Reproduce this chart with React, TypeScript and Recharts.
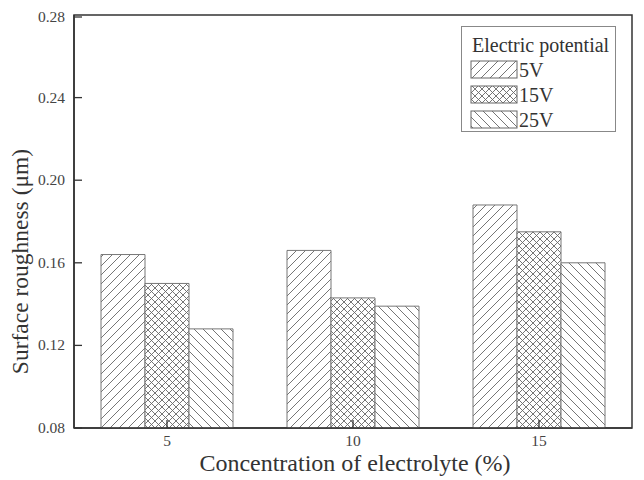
import { BarChart, Bar, XAxis, YAxis, ReferenceArea } from "recharts";

// concentration of electrolyte (%)
const concentrations = [5, 10, 15];
// surface roughness (um) per electric potential
const v5 = [0.164, 0.166, 0.188];
const v15 = [0.15, 0.143, 0.175];
const v25 = [0.128, 0.139, 0.16];
const seriesNames = ["5V", "15V", "25V"];
const seriesKeys = ["v5", "v15", "v25"];
const patternIds = ["hatchFwd", "hatchCross", "hatchBack"];
const yTicks = [0.08, 0.12, 0.16, 0.2, 0.24, 0.28];
const xTicks = [5, 10, 15];
const xDomain = [2.5, 17.5];
const yDomain = [0.08, 0.28];

const data = concentrations.map((c, i) => ({ c, v5: v5[i], v15: v15[i], v25: v25[i] }));

const FONT = "'Liberation Serif', 'Times New Roman', serif";
const AXIS = "#333";
const HATCH = "#666";

const XTick = ({ x, y, payload }: any) => (
  <g>
    <line x1={x} x2={x} y1={y} y2={y - 8} stroke={AXIS} strokeWidth={1.3} />
    <text x={x} y={y + 18} textAnchor="middle" fontSize={15.5} fontFamily={FONT} fill="#444">
      {payload.value}
    </text>
  </g>
);

const YTick = ({ x, y, payload }: any) => (
  <g>
    <line x1={x} x2={x + 8} y1={y} y2={y} stroke={AXIS} strokeWidth={1.3} />
    <text x={x - 9} y={y + 5} textAnchor="end" fontSize={15.5} fontFamily={FONT} fill="#444">
      {Number(payload.value).toFixed(2)}
    </text>
  </g>
);

const LegendBox = () => (
  <svg width={156} height={107} style={{ display: "block" }}>
    <rect x={0.5} y={0.5} width={154} height={105} fill="#fff" stroke="#888" strokeWidth={1} />
    <text x={11} y={26} fontSize={20} fontFamily={FONT} fill="#333">
      Electric potential
    </text>
    {seriesNames.map((name, i) => (
      <g key={name}>
        <rect x={10} y={35 + i * 25} width={46} height={17} fill={`url(#${patternIds[i]})`} stroke={HATCH} />
        <text x={58} y={51 + i * 25} fontSize={20} fontFamily={FONT} fill="#333">
          {name}
        </text>
      </g>
    ))}
  </svg>
);

export default function App() {
  return (
    <div style={{ position: "relative", width: 636, height: 472, background: "#fff" }}>
      <style>{`.recharts-surface { overflow: visible; }`}</style>
      <BarChart
        width={636}
        height={472}
        data={data}
        margin={{ top: 7, right: 12, bottom: 0, left: 0 }}
        barGap={0}
        barSize={44}
      >
        <defs>
          <pattern id="hatchFwd" patternUnits="userSpaceOnUse" width={9} height={9}>
            <rect width={9} height={9} fill="#fff" />
            <path d="M-1,1 l2,-2 M0,9 l9,-9 M8,10 l2,-2" stroke={HATCH} strokeWidth={0.9} />
          </pattern>
          <pattern id="hatchBack" patternUnits="userSpaceOnUse" width={9} height={9}>
            <rect width={9} height={9} fill="#fff" />
            <path d="M-1,8 l2,2 M0,0 l9,9 M8,-1 l2,2" stroke={HATCH} strokeWidth={0.9} />
          </pattern>
          <pattern id="hatchCross" patternUnits="userSpaceOnUse" width={7} height={7}>
            <rect width={7} height={7} fill="#fff" />
            <path d="M-1,1 l2,-2 M0,7 l7,-7 M6,8 l2,-2 M-1,6 l2,2 M0,0 l7,7 M6,-1 l2,2" stroke={HATCH} strokeWidth={0.9} />
          </pattern>
        </defs>
        <XAxis
          dataKey="c"
          type="number"
          domain={xDomain}
          ticks={xTicks}
          allowDataOverflow
          height={52}
          tickSize={0}
          tickMargin={0}
          tickLine={false}
          tick={<XTick />}
          axisLine={{ stroke: AXIS, strokeWidth: 1.5 }}
          label={({ viewBox }: any) => (
            <text
              x={viewBox.x + viewBox.width / 2 + 2}
              y={viewBox.y + 43}
              textAnchor="middle"
              fontSize={24}
              fontFamily={FONT}
              fill="#333"
            >
              Concentration of electrolyte (%)
            </text>
          )}
        />
        <YAxis
          type="number"
          domain={yDomain}
          ticks={yTicks}
          allowDataOverflow
          width={66}
          tickSize={0}
          tickMargin={0}
          tickLine={false}
          tick={<YTick />}
          axisLine={{ stroke: AXIS, strokeWidth: 1.5 }}
          label={({ viewBox }: any) => {
            const cx = viewBox.x + 12;
            const cy = viewBox.y + viewBox.height / 2 + 40;
            return (
              <text
                x={cx}
                y={cy}
                transform={`rotate(-90 ${cx} ${cy})`}
                textAnchor="middle"
                dominantBaseline="central"
                fontSize={23.5}
                fontFamily={FONT}
                fill="#333"
              >
                Surface roughness (μm)
              </text>
            );
          }}
        />
        {seriesKeys.map((k, i) => (
          <Bar
            key={k}
            dataKey={k}
            name={seriesNames[i]}
            fill={`url(#${patternIds[i]})`}
            stroke="#777"
            strokeWidth={1}
            isAnimationActive={false}
          />
        ))}
        <ReferenceArea
          x1={xDomain[0]}
          x2={xDomain[1]}
          y1={yDomain[0]}
          y2={yDomain[1]}
          fill="none"
          fillOpacity={0}
          stroke={AXIS}
          strokeWidth={1.5}
          ifOverflow="visible"
        />
      </BarChart>
      <div style={{ position: "absolute", left: 453, top: 18 }}>
        <LegendBox />
      </div>
    </div>
  );
}
